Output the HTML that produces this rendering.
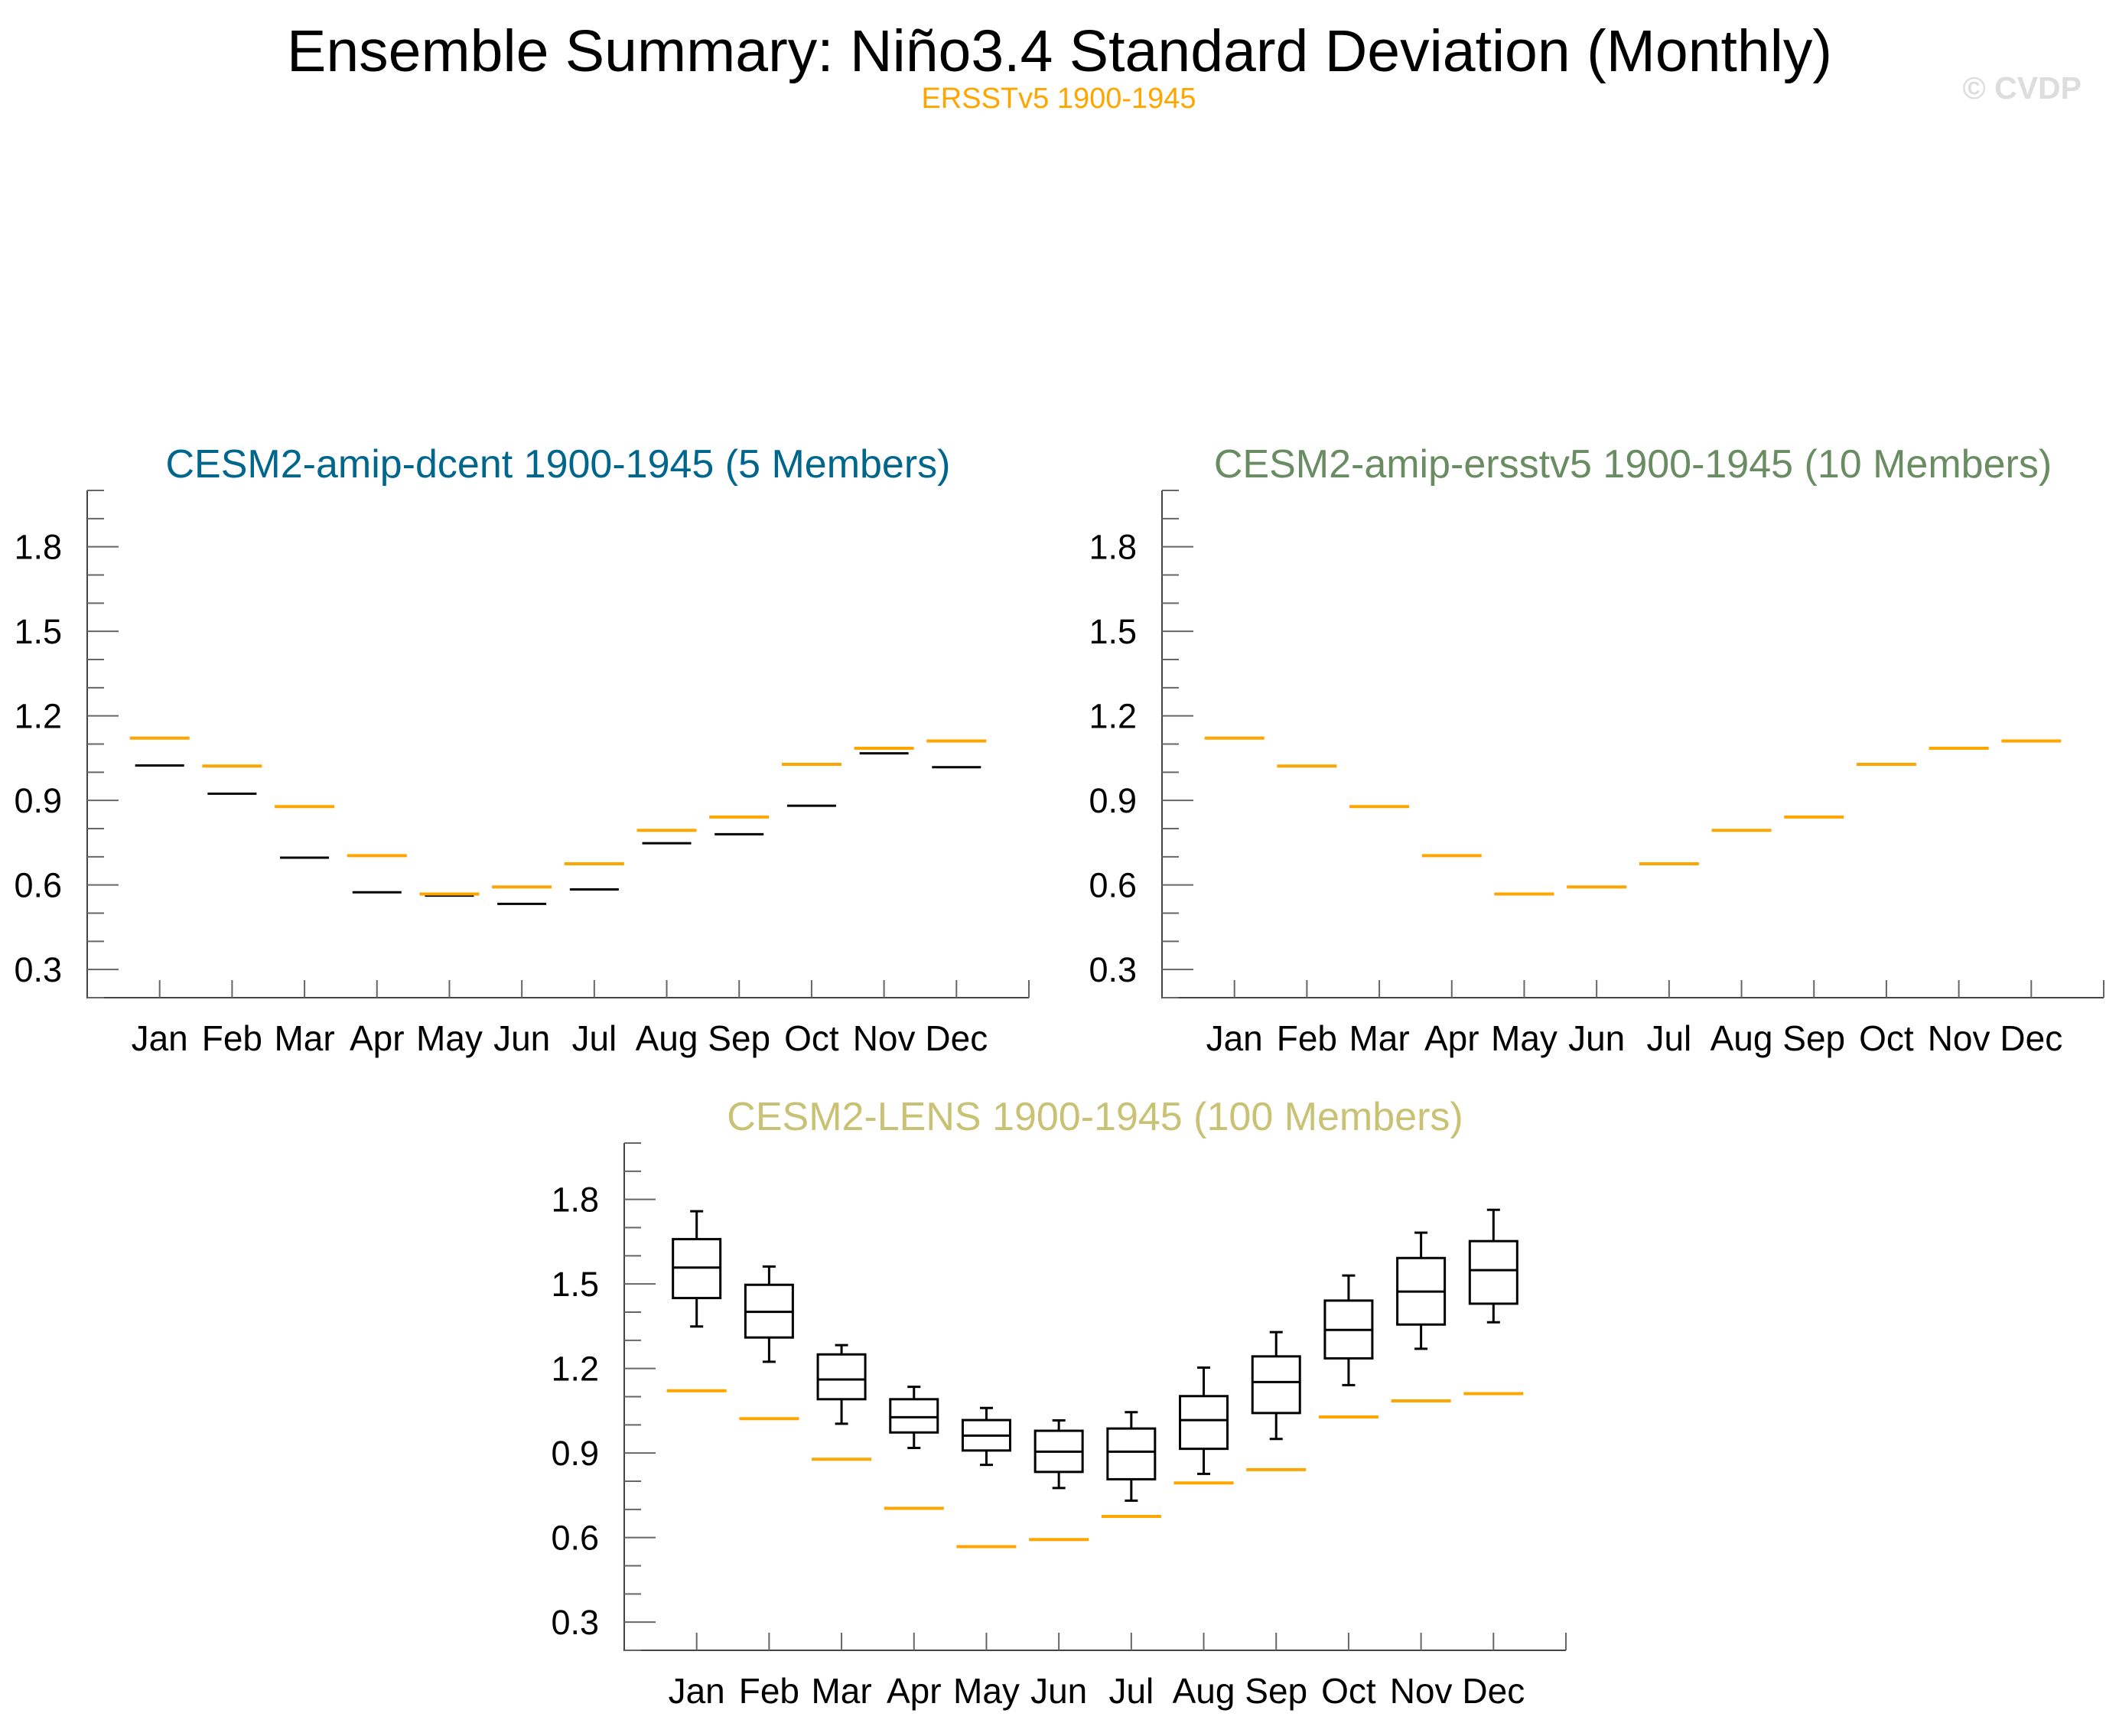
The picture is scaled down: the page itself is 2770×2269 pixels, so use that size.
<!DOCTYPE html>
<html><head><meta charset="utf-8"><style>
html,body{margin:0;padding:0;background:#fff;}
svg{display:block;font-family:"Liberation Sans",Arial,sans-serif;}
</style></head><body>
<svg id="chart" width="2770" height="2269" viewBox="0 0 2770 2269" xmlns="http://www.w3.org/2000/svg">
<text x="1385" y="93" font-size="77" text-anchor="middle" fill="#000">Ensemble Summary: Niño3.4 Standard Deviation (Monthly)</text>
<text x="1384" y="141" font-size="38" text-anchor="middle" fill="#ffa500">ERSSTv5 1900-1945</text>
<text x="2721" y="129" font-size="41" font-weight="bold" text-anchor="end" fill="#dddddd">© CVDP</text>
</svg>
<script>
const months = ["Jan","Feb","Mar","Apr","May","Jun","Jul","Aug","Sep","Oct","Nov","Dec"];
const yTicks = [0.3,0.6,0.9,1.2,1.5,1.8];
const yTickLabels = ["0.3","0.6","0.9","1.2","1.5","1.8"];
const obs = [1.121,1.022,0.878,0.704,0.568,0.593,0.675,0.794,0.841,1.028,1.085,1.111];
const dcentMean = [1.024,0.924,0.697,0.574,0.562,0.533,0.584,0.748,0.780,0.881,1.067,1.018];
const ersstMean = [1.121,1.022,0.878,0.704,0.568,0.593,0.675,0.794,0.841,1.028,1.085,1.111];
const lensWhiskerHigh = [1.758,1.562,1.283,1.135,1.060,1.016,1.045,1.203,1.329,1.530,1.682,1.763];
const lensQ3 = [1.659,1.497,1.250,1.091,1.017,0.979,0.987,1.102,1.243,1.441,1.592,1.652];
const lensMedian = [1.558,1.401,1.161,1.027,0.962,0.905,0.905,1.017,1.152,1.337,1.473,1.549];
const lensQ1 = [1.450,1.310,1.091,0.973,0.909,0.833,0.807,0.915,1.042,1.236,1.356,1.430];
const lensWhiskerLow = [1.349,1.224,1.004,0.918,0.858,0.776,0.731,0.826,0.950,1.141,1.270,1.364];

const NS="http://www.w3.org/2000/svg";
const svg=document.getElementById('chart');
function mk(tag,attrs,parent,text){const e=document.createElementNS(NS,tag);for(const k in attrs)e.setAttribute(k,attrs[k]);if(text!==undefined)e.textContent=text;(parent||svg).appendChild(e);return e;}

function panel(id,left,top,title,color){
  const W=1231,H=663,ymin=0.2,ymax=2.0;
  const g=mk('g',{});
  
  
  const x=m=>left+(m+1)*W/13;
  const y=v=>top+(ymax-v)/(ymax-ymin)*H;
  const t=mk('text',{x:left+W/2,y:top-17,'font-size':52,'text-anchor':'middle',fill:color},g,title);
  
  
  const ax=mk('path',{d:`M${left} ${top}V${top+H}H${left+W}`,stroke:'#444',fill:'none','stroke-width':2},g);
  
  
  for(let k=2;k<=20;k++){
    const v=k/10, major=(k%3===0);
    const yy=y(v);
    const tk=mk('line',{x1:left,x2:left+(major?41:22),y1:yy,y2:yy,stroke:'#666','stroke-width':2},g);
    
    
  }
  yTicks.forEach((v,i)=>{
    const l=mk('text',{x:left-33,y:y(v)+16,'font-size':45,'text-anchor':'end',fill:'#000'},g,yTickLabels[i]);
    
    
  });
  for(let m=0;m<13;m++){
    const xx=left+(m+1)*W/13;
    const tk=mk('line',{x1:xx,x2:xx,y1:top+H,y2:top+H-23,stroke:'#666','stroke-width':2},g);
    
    
  }
  months.forEach((mn,i)=>{
    const l=mk('text',{x:x(i),y:top+H+69,'font-size':46,'text-anchor':'middle',fill:'#000'},g,mn);
    
    
  });
  return {g,x,y};
}

function drawObs(p){
  obs.forEach((v,i)=>{
    const l=mk('line',{x1:p.x(i)-39,x2:p.x(i)+39,y1:p.y(v),y2:p.y(v),stroke:'#ffa500','stroke-width':4},p.g);
    
    
  });
}
function drawMean(p,arr,w){
  arr.forEach((v,i)=>{
    const l=mk('line',{x1:p.x(i)-w/2,x2:p.x(i)+w/2,y1:p.y(v),y2:p.y(v),stroke:'#000','stroke-width':3},p.g);
    
    
  });
}

const p1=panel('panel-dcent',114,641,'CESM2-amip-dcent 1900-1945 (5 Members)','#00668c');
drawMean(p1,dcentMean,64);
drawObs(p1);

const p2=panel('panel-ersstv5',1519,641,'CESM2-amip-ersstv5 1900-1945 (10 Members)','#6a8c62');
drawMean(p2,ersstMean,72);
drawObs(p2);

const p3=panel('panel-lens',816,1494,'CESM2-LENS 1900-1945 (100 Members)','#c9c275');
months.forEach((mn,i)=>{
  const cx=p3.x(i), bw=62, cap=17;
  const g=mk('g',{fill:'none',stroke:'#000','stroke-width':3},p3.g);
  
  
  mk('line',{x1:cx,x2:cx,y1:p3.y(lensWhiskerHigh[i]),y2:p3.y(lensQ3[i])},g);
  mk('line',{x1:cx,x2:cx,y1:p3.y(lensQ1[i]),y2:p3.y(lensWhiskerLow[i])},g);
  mk('line',{x1:cx-cap/2,x2:cx+cap/2,y1:p3.y(lensWhiskerHigh[i]),y2:p3.y(lensWhiskerHigh[i])},g);
  mk('line',{x1:cx-cap/2,x2:cx+cap/2,y1:p3.y(lensWhiskerLow[i]),y2:p3.y(lensWhiskerLow[i])},g);
  mk('rect',{x:cx-bw/2,y:p3.y(lensQ3[i]),width:bw,height:p3.y(lensQ1[i])-p3.y(lensQ3[i])},g);
  mk('line',{x1:cx-bw/2,x2:cx+bw/2,y1:p3.y(lensMedian[i]),y2:p3.y(lensMedian[i])},g);
});
drawObs(p3);
</script>
</body></html>
